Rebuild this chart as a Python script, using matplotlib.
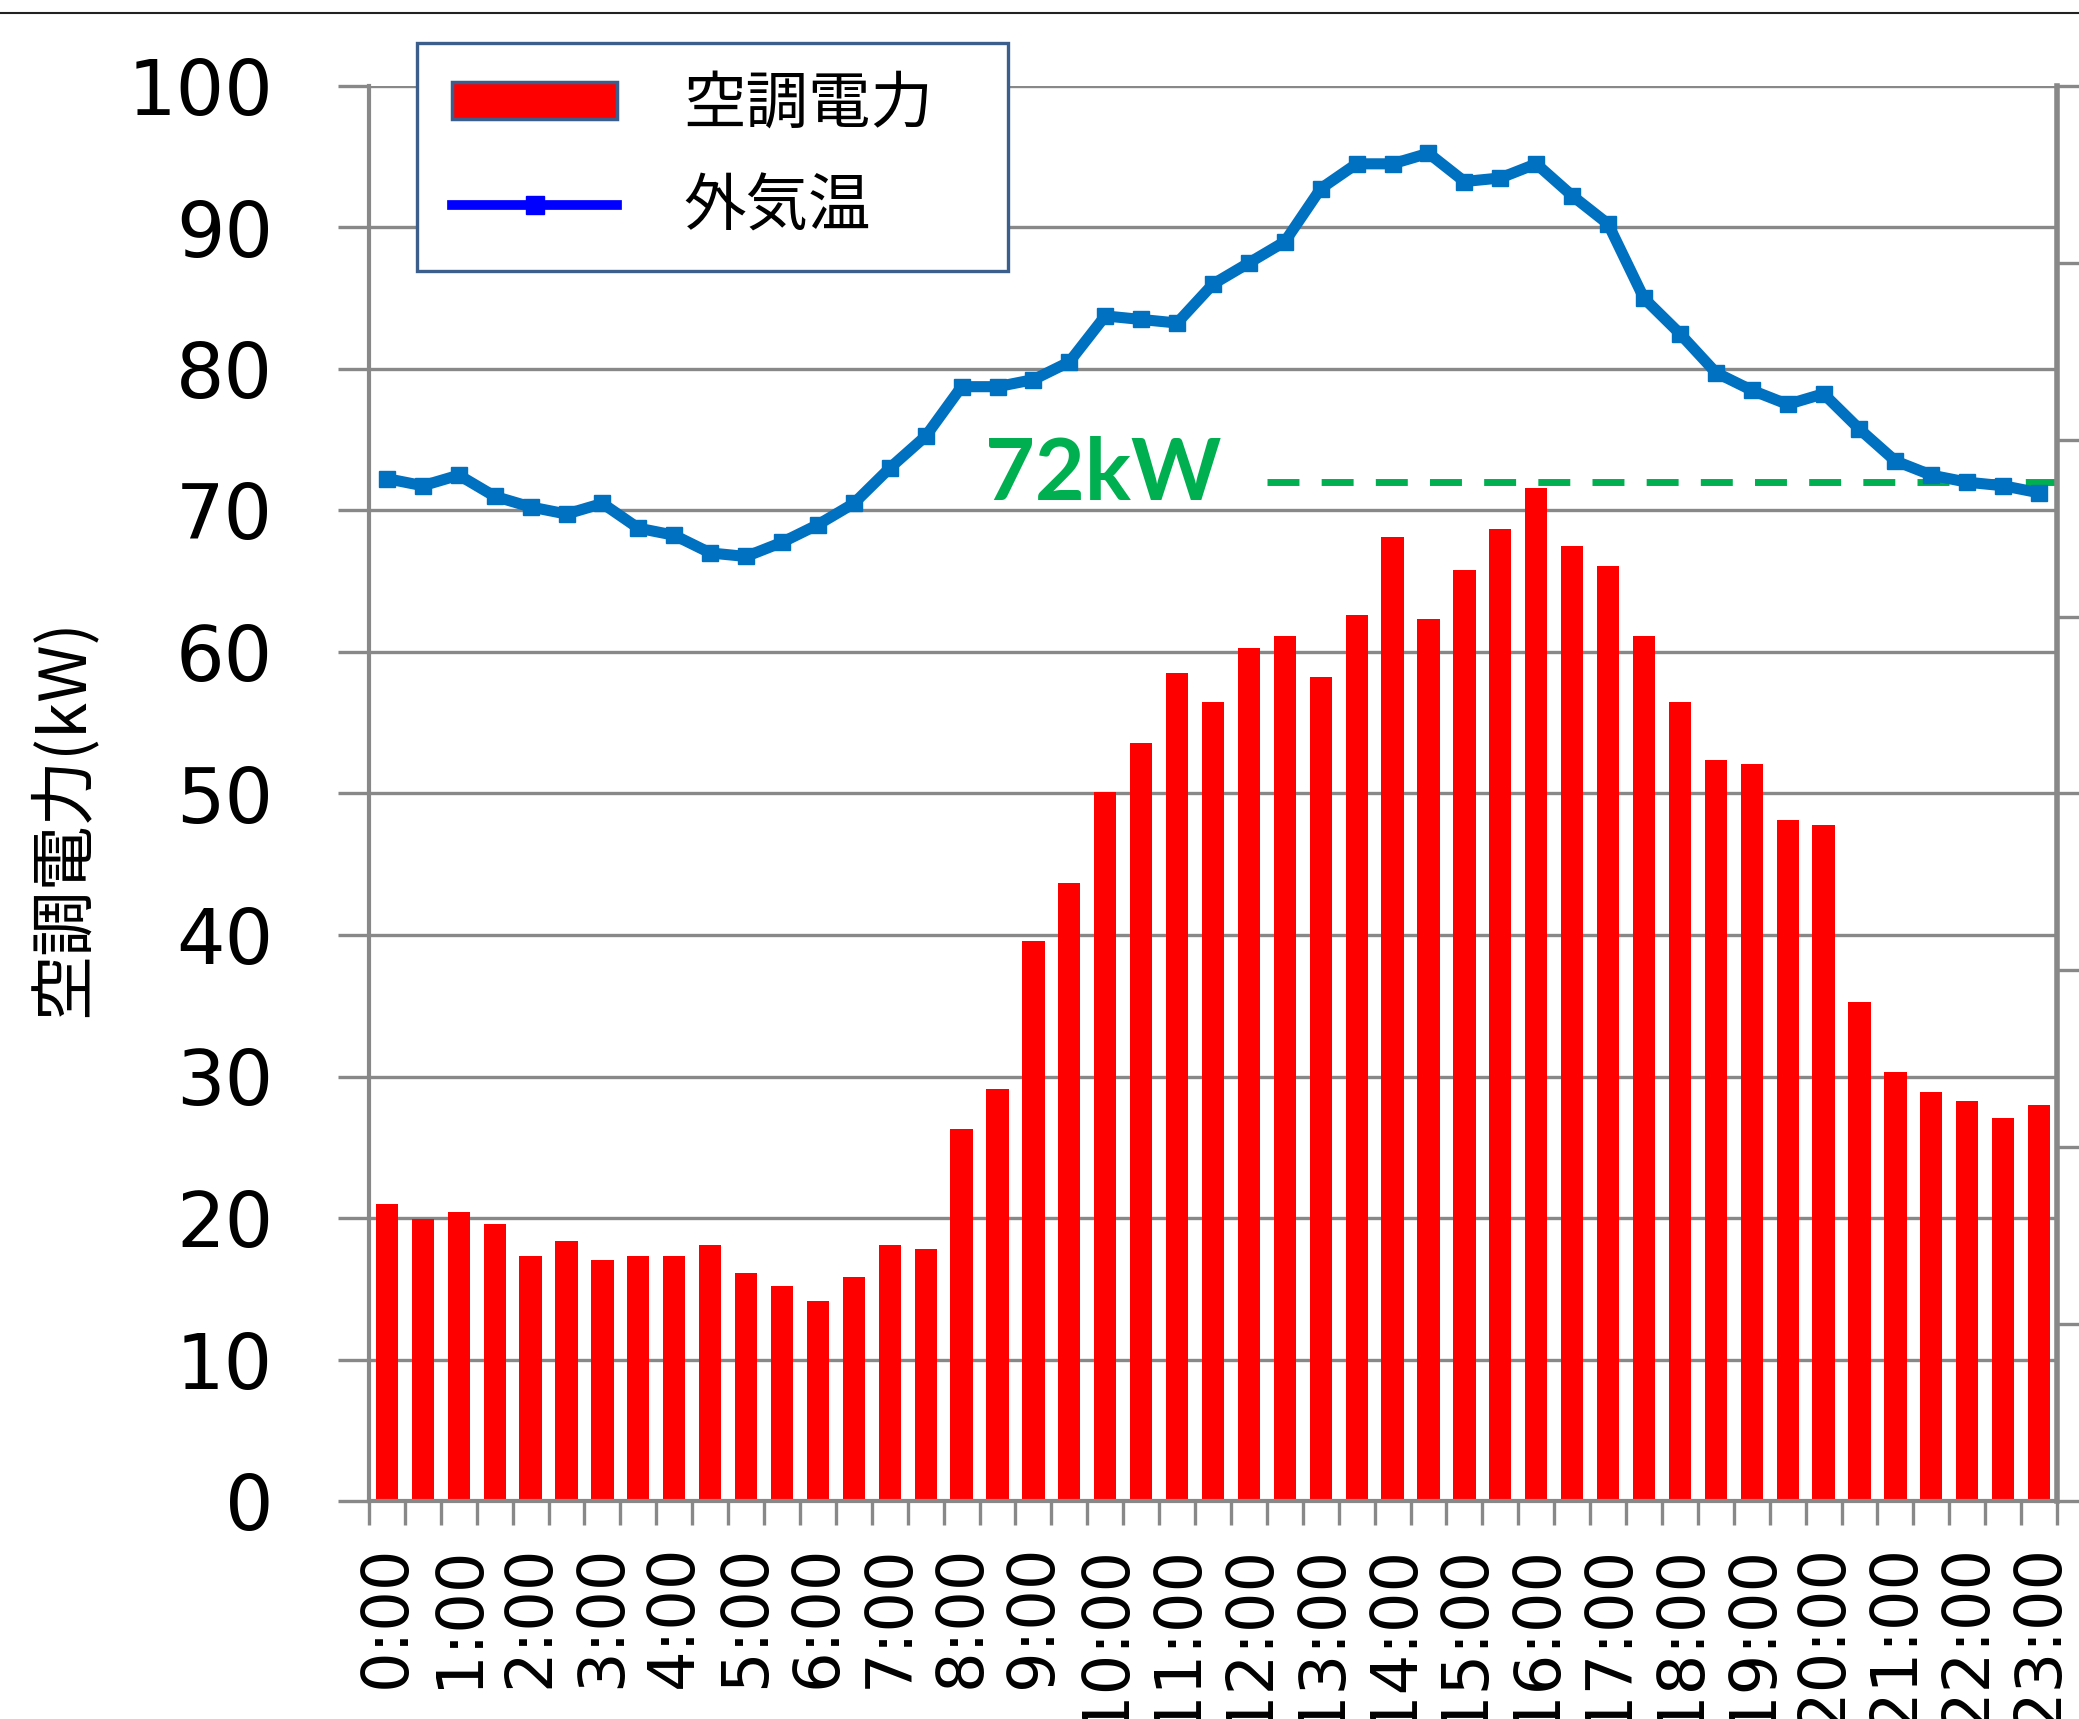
import numpy as np
import matplotlib.pyplot as plt
from matplotlib.lines import Line2D
from matplotlib.patches import Patch, Rectangle

CJK = ['Noto Sans CJK JP', 'DejaVu Sans']

# 30分ごとのデータ (0:00 - 23:00)
times = [f"{i // 2}:{'30' if i % 2 else '00'}" for i in range(47)]

# 空調電力 (kW)
power = [21.0, 19.9, 20.4, 19.6, 17.3, 18.4, 17.0, 17.3, 17.3, 18.1,
         16.1, 15.2, 14.1, 15.8, 18.1, 17.8, 26.3, 29.1, 39.6, 43.7,
         50.1, 53.6, 58.5, 56.5, 60.3, 61.1, 58.2, 62.6, 68.1, 62.3,
         65.8, 68.7, 71.6, 67.5, 66.1, 61.1, 56.5, 52.4, 52.1, 48.1,
         47.8, 35.3, 30.3, 28.9, 28.3, 27.1, 28.0]

# 外気温 (℃, 第2軸)
temp = [28.9, 28.7, 29.0, 28.4, 28.1, 27.9, 28.2, 27.5, 27.3, 26.8,
        26.7, 27.1, 27.6, 28.2, 29.2, 30.1, 31.5, 31.5, 31.7, 32.2,
        33.5, 33.4, 33.3, 34.4, 35.0, 35.6, 37.1, 37.8, 37.8, 38.1,
        37.3, 37.4, 37.8, 36.9, 36.1, 34.0, 33.0, 31.9, 31.4, 31.0,
        31.3, 30.3, 29.4, 29.0, 28.8, 28.7, 28.5]

PEAK_KW = 72
PEAK_LABEL = '72kW'

GRID = '#888888'
W, H = 2079, 1719

x = np.arange(len(times))

fig = plt.figure(figsize=(W / 100, H / 100), dpi=100)
ax = fig.add_axes([369 / W, 1 - 1501 / H, 1688 / W, 1415 / H])

ax.bar(x, power, width=0.62, color='#FF0000', zorder=2)
ax.set_xlim(-0.5, len(x) - 0.5)
ax.set_ylim(0, 100)
ax.set_yticks(range(0, 101, 10))
ax.grid(axis='y', color=GRID, lw=2.4)
ax.set_axisbelow(True)
ax.tick_params(axis='y', length=22, width=2.4, color=GRID, pad=47, labelsize=55)

# 1時間ごとにラベル、30分ごとに目盛り
ax.set_xticks(x[::2], times[::2], rotation=90, fontsize=46)
ax.tick_params(axis='x', which='major', length=0, pad=31)
ax.set_xticks(np.arange(-0.5, len(x)), minor=True)
ax.tick_params(axis='x', which='minor', length=17, width=2.4, color=GRID)

ax.spines['top'].set_visible(False)
ax.spines['right'].set_visible(False)
for s in ['left', 'bottom']:
    ax.spines[s].set_color(GRID)
    ax.spines[s].set_linewidth(3)

# ピーク電力
ax.hlines(PEAK_KW, 24.5, len(x) + 1, colors='#00B050', lw=5,
          linestyles=(0, (4.6, 3.2)), clip_on=False, zorder=3)
ax.text(16.66, 70.74, PEAK_LABEL, color='#00B050', fontsize=62,
        family='Lato', fontweight='bold', ha='left', va='baseline')

# 外気温 (第2軸)
ax2 = ax.twinx()
ax2.plot(x, temp, color='#0070C0', lw=8, marker='s', ms=11, zorder=3)
ax2.set_ylim(0, 40)
ax2.set_yticks(range(0, 41, 5))
ax2.tick_params(axis='y', length=25, width=2.4, color=GRID, labelright=False)
for s in ['top', 'left', 'bottom']:
    ax2.spines[s].set_visible(False)
ax2.spines['right'].set_color(GRID)
ax2.spines['right'].set_linewidth(4)

fig.text(64 / W, 1 - 818 / H, '空調電力(kW)', rotation=90, ha='center',
         va='center', fontsize=47, family=CJK)

# 凡例
frame = Rectangle((417 / W, 1 - 271 / H), (1008 - 417) / W, (271 - 43) / H,
                  transform=fig.transFigure, facecolor='white',
                  edgecolor='#3B5E8C', lw=2.4, zorder=3)
fig.add_artist(frame)
handles = [Patch(facecolor='#FF0000', edgecolor='#3B5E8C', lw=2.5),
           Line2D([], [], color='#0000FF', lw=7, marker='s', ms=13)]
leg = fig.legend(handles, ['空調電力', '外気温'], loc='upper left',
                 bbox_to_anchor=(452 / W, 1 - 73 / H), frameon=False,
                 prop={'family': CJK, 'size': 45}, handlelength=2.64,
                 handleheight=0.53, handletextpad=1.06, labelspacing=0.62,
                 borderpad=0, borderaxespad=0)
leg.set_zorder(5)

# 上端の線
fig.add_artist(Line2D([0, 1], [1 - 13 / H] * 2, transform=fig.transFigure,
                      color='#222222', lw=1.5))

fig.savefig('out.png', dpi=100)
